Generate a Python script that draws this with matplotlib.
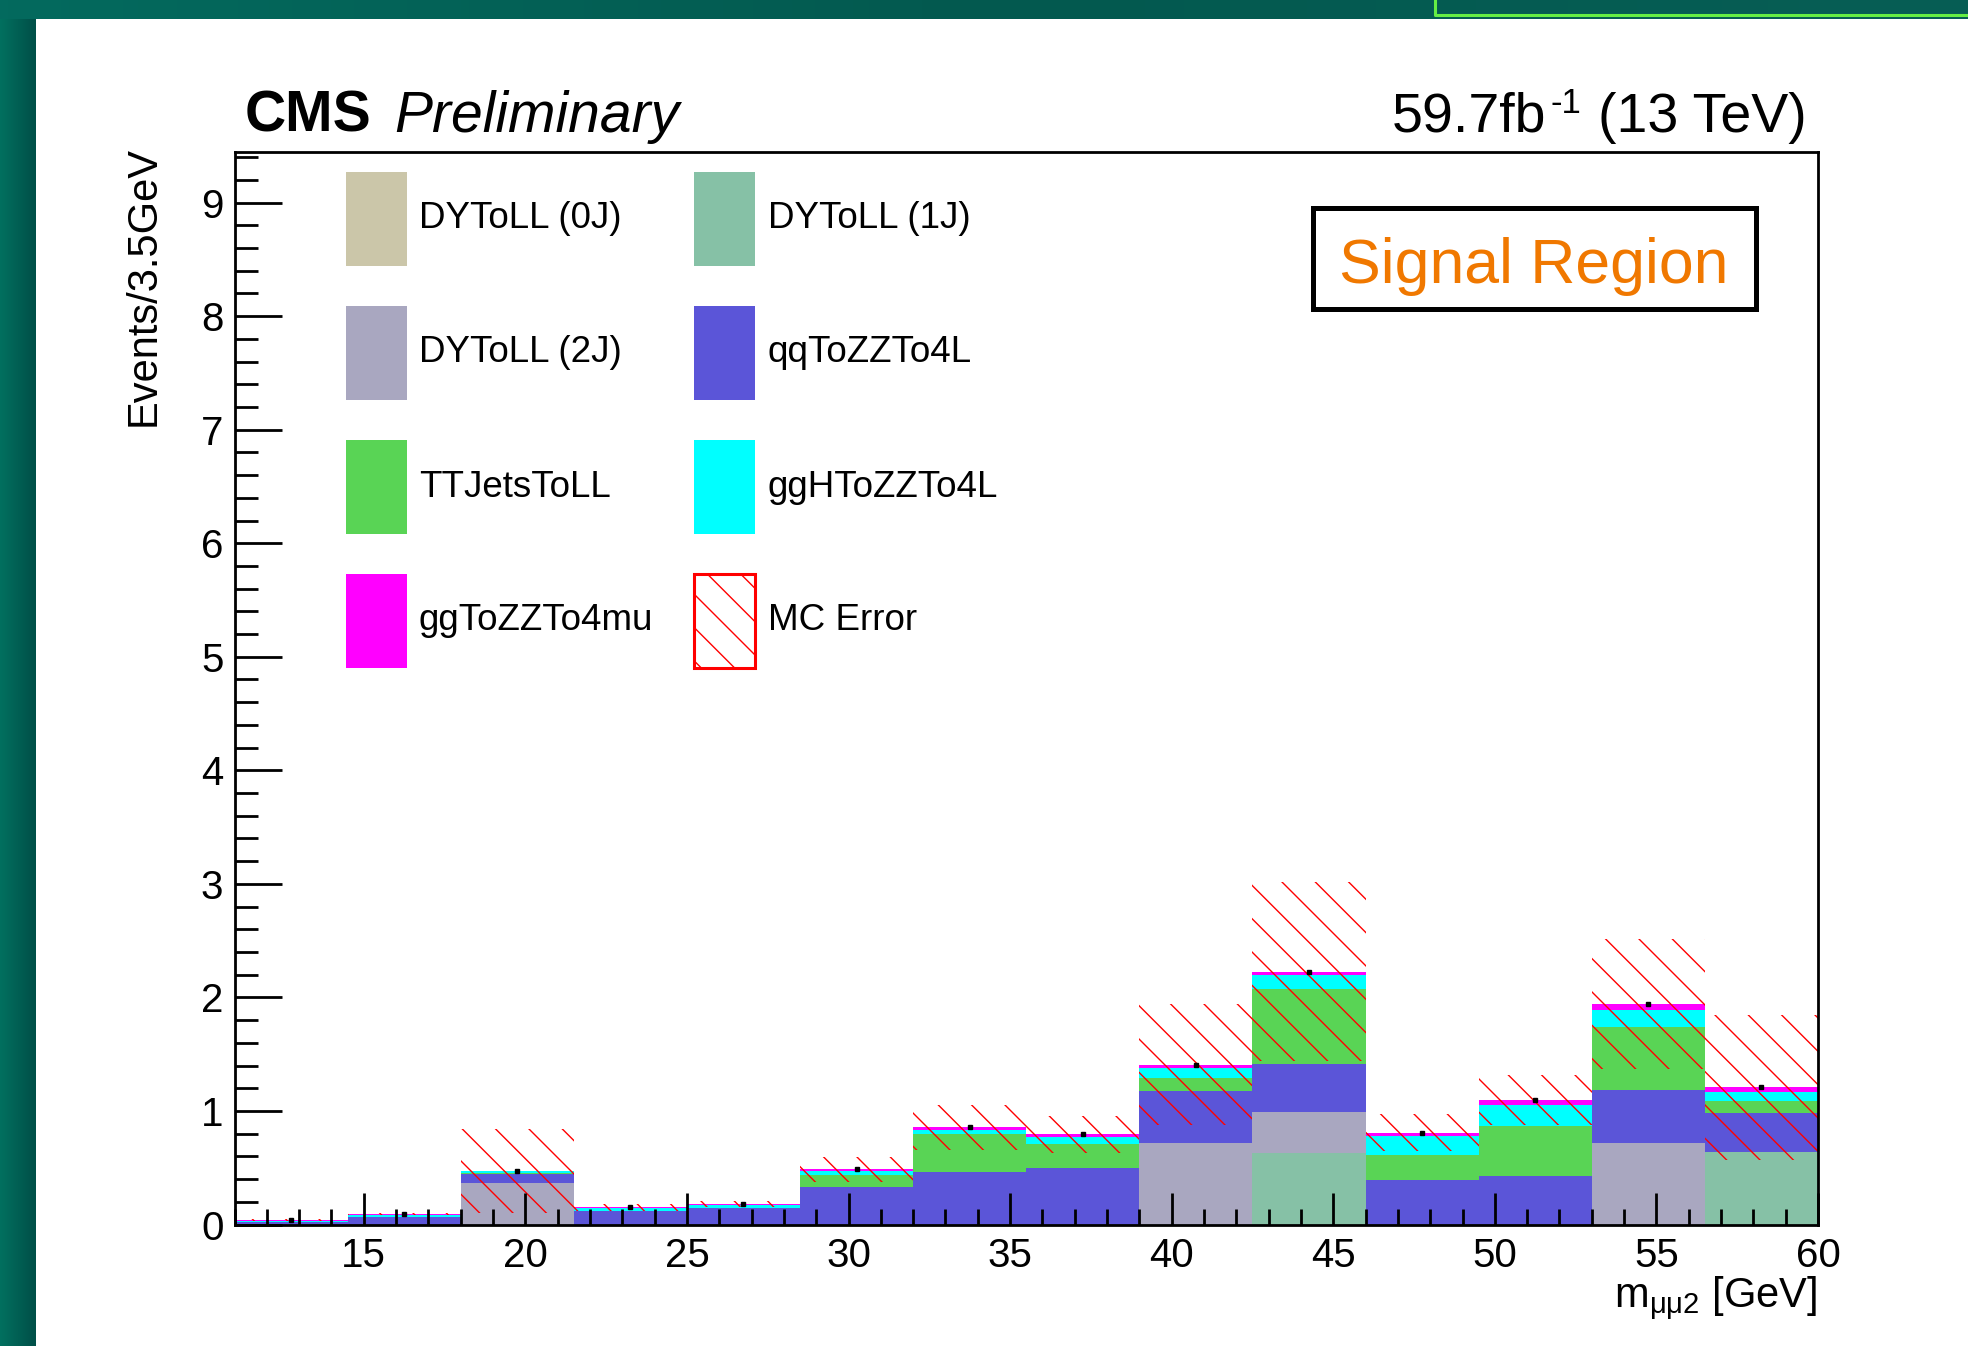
import numpy as np
import matplotlib
matplotlib.use("Agg")
import matplotlib.pyplot as plt
from matplotlib.patches import Rectangle
from matplotlib.lines import Line2D
from matplotlib.ticker import MultipleLocator

plt.rcParams["font.family"] = ["Liberation Sans", "DejaVu Sans"]
plt.rcParams["mathtext.fontset"] = "custom"
plt.rcParams["mathtext.rm"] = "Liberation Sans"
plt.rcParams["mathtext.it"] = "Liberation Sans:italic"
plt.rcParams["mathtext.bf"] = "Liberation Sans:bold"
plt.rcParams["hatch.linewidth"] = 1.0

# binning of m_mumu2 (3.5 GeV bins)
edges = [11, 14.5, 18, 21.5, 25, 28.5, 32, 35.5, 39, 42.5, 46, 49.5, 53, 56.5, 60]

# stacked MC contributions per bin
dy0j = [0, 0, 0, 0, 0, 0, 0, 0, 0, 0, 0, 0, 0, 0]
dy1j = [0, 0, 0, 0, 0, 0, 0, 0, 0, 0.632, 0, 0, 0, 0.635]
dy2j = [0, 0, 0.368, 0, 0, 0, 0, 0, 0.718, 0.361, 0, 0, 0.718, 0]
qqzz = [0.020, 0.068, 0.079, 0.121, 0.141, 0.332, 0.465, 0.494, 0.455, 0.421, 0.390, 0.430, 0.470, 0.350]
ttjets = [0, 0, 0.005, 0, 0, 0.106, 0.329, 0.217, 0.114, 0.656, 0.225, 0.440, 0.555, 0.105]
gghzz = [0.015, 0.015, 0.015, 0.024, 0.033, 0.035, 0.041, 0.062, 0.095, 0.123, 0.165, 0.185, 0.147, 0.080]
ggzz = [0.005, 0.007, 0.006, 0.005, 0.006, 0.012, 0.021, 0.021, 0.026, 0.035, 0.030, 0.042, 0.053, 0.038]
mc_err = [0.01, 0.01, 0.37, 0.03, 0.03, 0.11, 0.20, 0.165, 0.53, 0.79, 0.165, 0.22, 0.57, 0.64]

labels = ["DYToLL (0J)", "DYToLL (1J)", "DYToLL (2J)", "qqToZZTo4L",
          "TTJetsToLL", "ggHToZZTo4L", "ggToZZTo4mu"]
colors = ["#CBC6A9", "#86C1A6", "#A9A7C0", "#5B55D8", "#59D455", "#00FFFF", "#FF00FF"]
stack = [dy0j, dy1j, dy2j, qqzz, ttjets, gghzz, ggzz]

W, H = 1968, 1346
fig = plt.figure(figsize=(W / 100, H / 100), dpi=100)
fig.patch.set_facecolor("white")


def fx(px):
    return px / W


def fy(py):
    return 1 - py / H


# slide frame around the plot
band_l = fig.add_axes([0, 0, fx(36), 1])
band_l.imshow(np.linspace(0, 1, 64)[None, :], cmap=matplotlib.colors.LinearSegmentedColormap.from_list(
    "teal_l", ["#02705F", "#004F48"]), aspect="auto", extent=[0, 1, 0, 1])
band_l.axis("off")
band_t = fig.add_axes([0, fy(19), 1, 19 / H])
band_t.imshow(np.linspace(0, 1, 256)[None, :], cmap=matplotlib.colors.LinearSegmentedColormap.from_list(
    "teal_t", ["#036A5E", "#03594F", "#075E55"]), aspect="auto", extent=[0, 1, 0, 1])
band_t.axis("off")
fig.add_artist(Line2D([fx(1435), fx(1435), 1], [1, fy(15), fy(15)],
                      transform=fig.transFigure, color="#66EE44", lw=2.2, zorder=5))

left, right, top, bottom = 234.5, 1818, 151.5, 1224.5
ax = fig.add_axes([fx(left), fy(bottom), (right - left) / W, (bottom - top) / H])

edges = np.array(edges)
widths = np.diff(edges)
base = np.zeros(len(widths))
for vals, col in zip(stack, colors):
    vals = np.array(vals)
    ax.bar(edges[:-1], vals, width=widths, bottom=base, align="edge",
           color=col, linewidth=0, zorder=1)
    base = base + vals

# MC stat. uncertainty band around the stack total
err = np.array(mc_err)
ax.bar(edges[:-1], 2 * err, width=widths, bottom=base - err, align="edge",
       fill=False, hatch="\\", edgecolor="red", linewidth=0, zorder=1.2)
centers = 0.5 * (edges[:-1] + edges[1:])
ax.plot(centers, base, ls="none", marker="s", ms=2.2, color="black", zorder=2)

ax.set_xlim(11, 60)
ax.set_ylim(0, 9.45)
ax.set_axisbelow(False)
ax.xaxis.set_major_locator(MultipleLocator(5))
ax.xaxis.set_minor_locator(MultipleLocator(1))
ax.yaxis.set_major_locator(MultipleLocator(1))
ax.yaxis.set_minor_locator(MultipleLocator(0.2))
ax.tick_params(axis="both", which="both", direction="in", width=2, top=False, right=False,
               labelsize=29)
ax.tick_params(axis="y", which="major", length=34, pad=8)
ax.tick_params(axis="y", which="minor", length=16.5)
ax.tick_params(axis="x", which="major", length=23, pad=9)
ax.tick_params(axis="x", which="minor", length=11.5)
for sp in ax.spines.values():
    sp.set_linewidth(2)

# header
fig.text(fx(245), fy(132), "CMS", fontsize=41, fontweight="bold", va="baseline")
fig.text(fx(394), fy(132), "Preliminary", fontsize=41, style="italic", va="baseline")
fig.text(fx(1546), fy(132), "59.7fb", fontsize=40, ha="right", va="baseline")
fig.text(fx(1550), fy(113), "-1", fontsize=25, ha="left", va="baseline")
fig.text(fx(1807), fy(132), "(13 TeV)", fontsize=40, ha="right", va="baseline")

# axis titles
fig.text(fx(144), fy(146), "Events/3.5GeV", fontsize=30, rotation=90, ha="center", va="top")
fig.text(fx(1817), fy(1308), r"m$_{\mathregular{μμ2}}$ [GeV]", fontsize=30,
         ha="right", va="baseline")

# legend, two columns
rows_top = [172, 306, 440, 574]
col_x = [346, 694]
text_x = [419, 767.5]
sw_w, sw_h = 61, 94
entries = [(0, 0, 0), (1, 0, 1), (0, 1, 2), (1, 1, 3), (0, 2, 4), (1, 2, 5), (0, 3, 6)]
for c, r, k in entries:
    fig.add_artist(Rectangle((fx(col_x[c]), fy(rows_top[r] + sw_h)), sw_w / W, sw_h / H,
                             transform=fig.transFigure, facecolor=colors[k], linewidth=0))
    fig.text(fx(text_x[c]), fy(rows_top[r] + sw_h / 2), labels[k], fontsize=26.5, va="center")
fig.add_artist(Rectangle((fx(col_x[1]), fy(rows_top[3] + sw_h)), sw_w / W, sw_h / H,
                         transform=fig.transFigure, facecolor="none", edgecolor="red",
                         hatch="\\", linewidth=2.2))
fig.text(fx(text_x[1]), fy(rows_top[3] + sw_h / 2), "MC Error", fontsize=26.5, va="center")

# region tag
fig.add_artist(Rectangle((fx(1313), fy(309)), (1756 - 1313) / W, (309 - 208) / H,
                         transform=fig.transFigure, facecolor="white", edgecolor="black",
                         linewidth=3.6))
fig.text(fx(1534), fy(266), "Signal Region", fontsize=45, color="#F07800",
         ha="center", va="center")

fig.savefig("out.png", dpi=100)
